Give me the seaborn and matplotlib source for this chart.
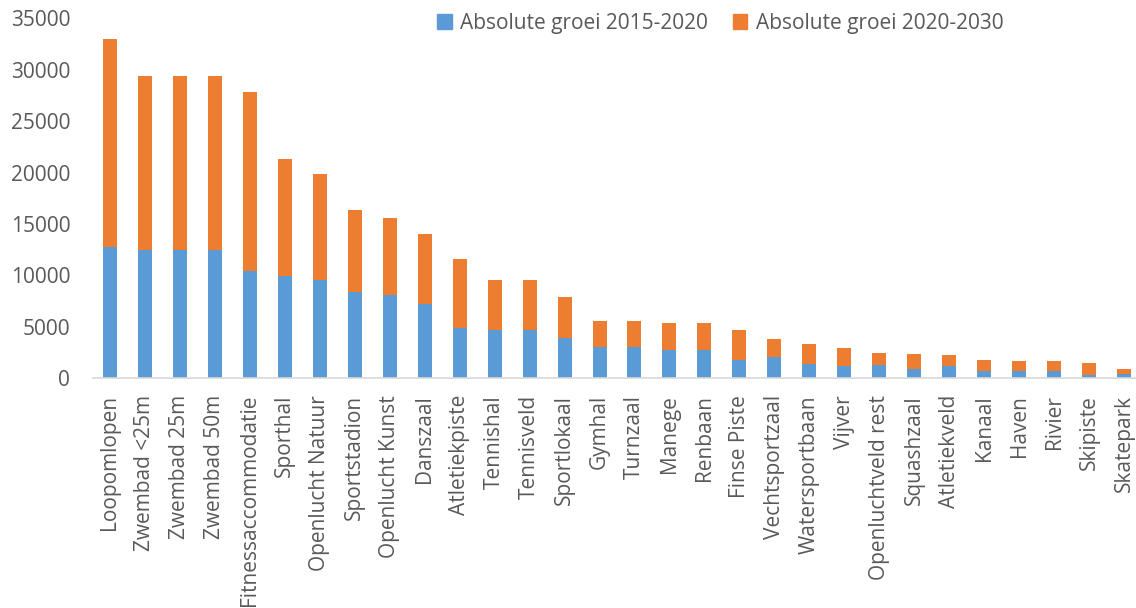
import numpy as np
import pandas as pd
import matplotlib
matplotlib.use("Agg")
import matplotlib.pyplot as plt
import seaborn as sns
from matplotlib.patches import Patch

categories = ["Loopomlopen", "Zwembad <25m", "Zwembad 25m", "Zwembad 50m",
              "Fitnessaccommodatie", "Sporthal", "Openlucht Natuur", "Sportstadion",
              "Openlucht Kunst", "Danszaal", "Atletiekpiste", "Tennishal",
              "Tennisveld", "Sportlokaal", "Gymhal", "Turnzaal", "Manege", "Renbaan",
              "Finse Piste", "Vechtsportzaal", "Watersportbaan", "Vijver",
              "Openluchtveld rest", "Squashzaal", "Atletiekveld", "Kanaal", "Haven",
              "Rivier", "Skipiste", "Skatepark"]
groei_2015_2020 = [12800, 12500, 12500, 12500, 10400, 9900, 9600, 8400, 8100, 7250,
                   4850, 4650, 4650, 3900, 3000, 3000, 2800, 2800, 1750, 2050,
                   1400, 1150, 1300, 875, 1200, 680, 680, 680, 350, 400]
groei_2020_2030 = [20200, 16900, 16900, 16900, 17400, 11400, 10300, 8000, 7450, 6750,
                   6750, 4950, 4950, 4000, 2550, 2550, 2600, 2600, 2900, 1750,
                   1900, 1800, 1150, 1525, 1050, 1070, 1020, 970, 1100, 550]

df = pd.DataFrame({"cat": categories,
                   "a": groei_2015_2020,
                   "b": groei_2020_2030})
df["total"] = df["a"] + df["b"]

blue = "#5B9BD5"
orange = "#ED7D31"
grey = "#595959"

sns.set_style("white")
plt.rcParams["font.family"] = ["Open Sans", "DejaVu Sans"]

fig = plt.figure(figsize=(11.36, 6.08), dpi=100)
ax = fig.add_axes([92.5 / 1136, 1 - 378.3 / 608, (1141.5 - 92.5) / 1136, 360 / 608])

sns.barplot(data=df, x="cat", y="total", color=orange, width=0.4, saturation=1,
            edgecolor="none", ax=ax)
sns.barplot(data=df, x="cat", y="a", color=blue, width=0.4, saturation=1,
            edgecolor="none", ax=ax)

ax.set_ylim(0, 35000)
ax.set_xlim(-0.5, len(categories) - 0.5)
ax.set_yticks(np.arange(0, 35001, 5000))
ax.set_xlabel("")
ax.set_ylabel("")
ax.tick_params(axis="y", length=0, pad=16, labelsize=15, labelcolor=grey)
ax.tick_params(axis="x", length=0, pad=12, labelsize=15, labelcolor=grey)
plt.setp(ax.get_xticklabels(), rotation=90)
for s in ["top", "right", "left"]:
    ax.spines[s].set_visible(False)
ax.spines["bottom"].set_color("#D9D9D9")
ax.spines["bottom"].set_linewidth(1.2)

handles = [Patch(color=blue, label="Absolute groei 2015-2020"),
           Patch(color=orange, label="Absolute groei 2020-2030")]
fig.legend(handles=handles, loc="center", bbox_to_anchor=(0.634, 0.962), ncol=2,
           frameon=False, fontsize=15, labelcolor=grey, handlelength=0.7,
           handleheight=0.7, handletextpad=0.4, columnspacing=1.2)

fig.savefig("out.png", dpi=100)
